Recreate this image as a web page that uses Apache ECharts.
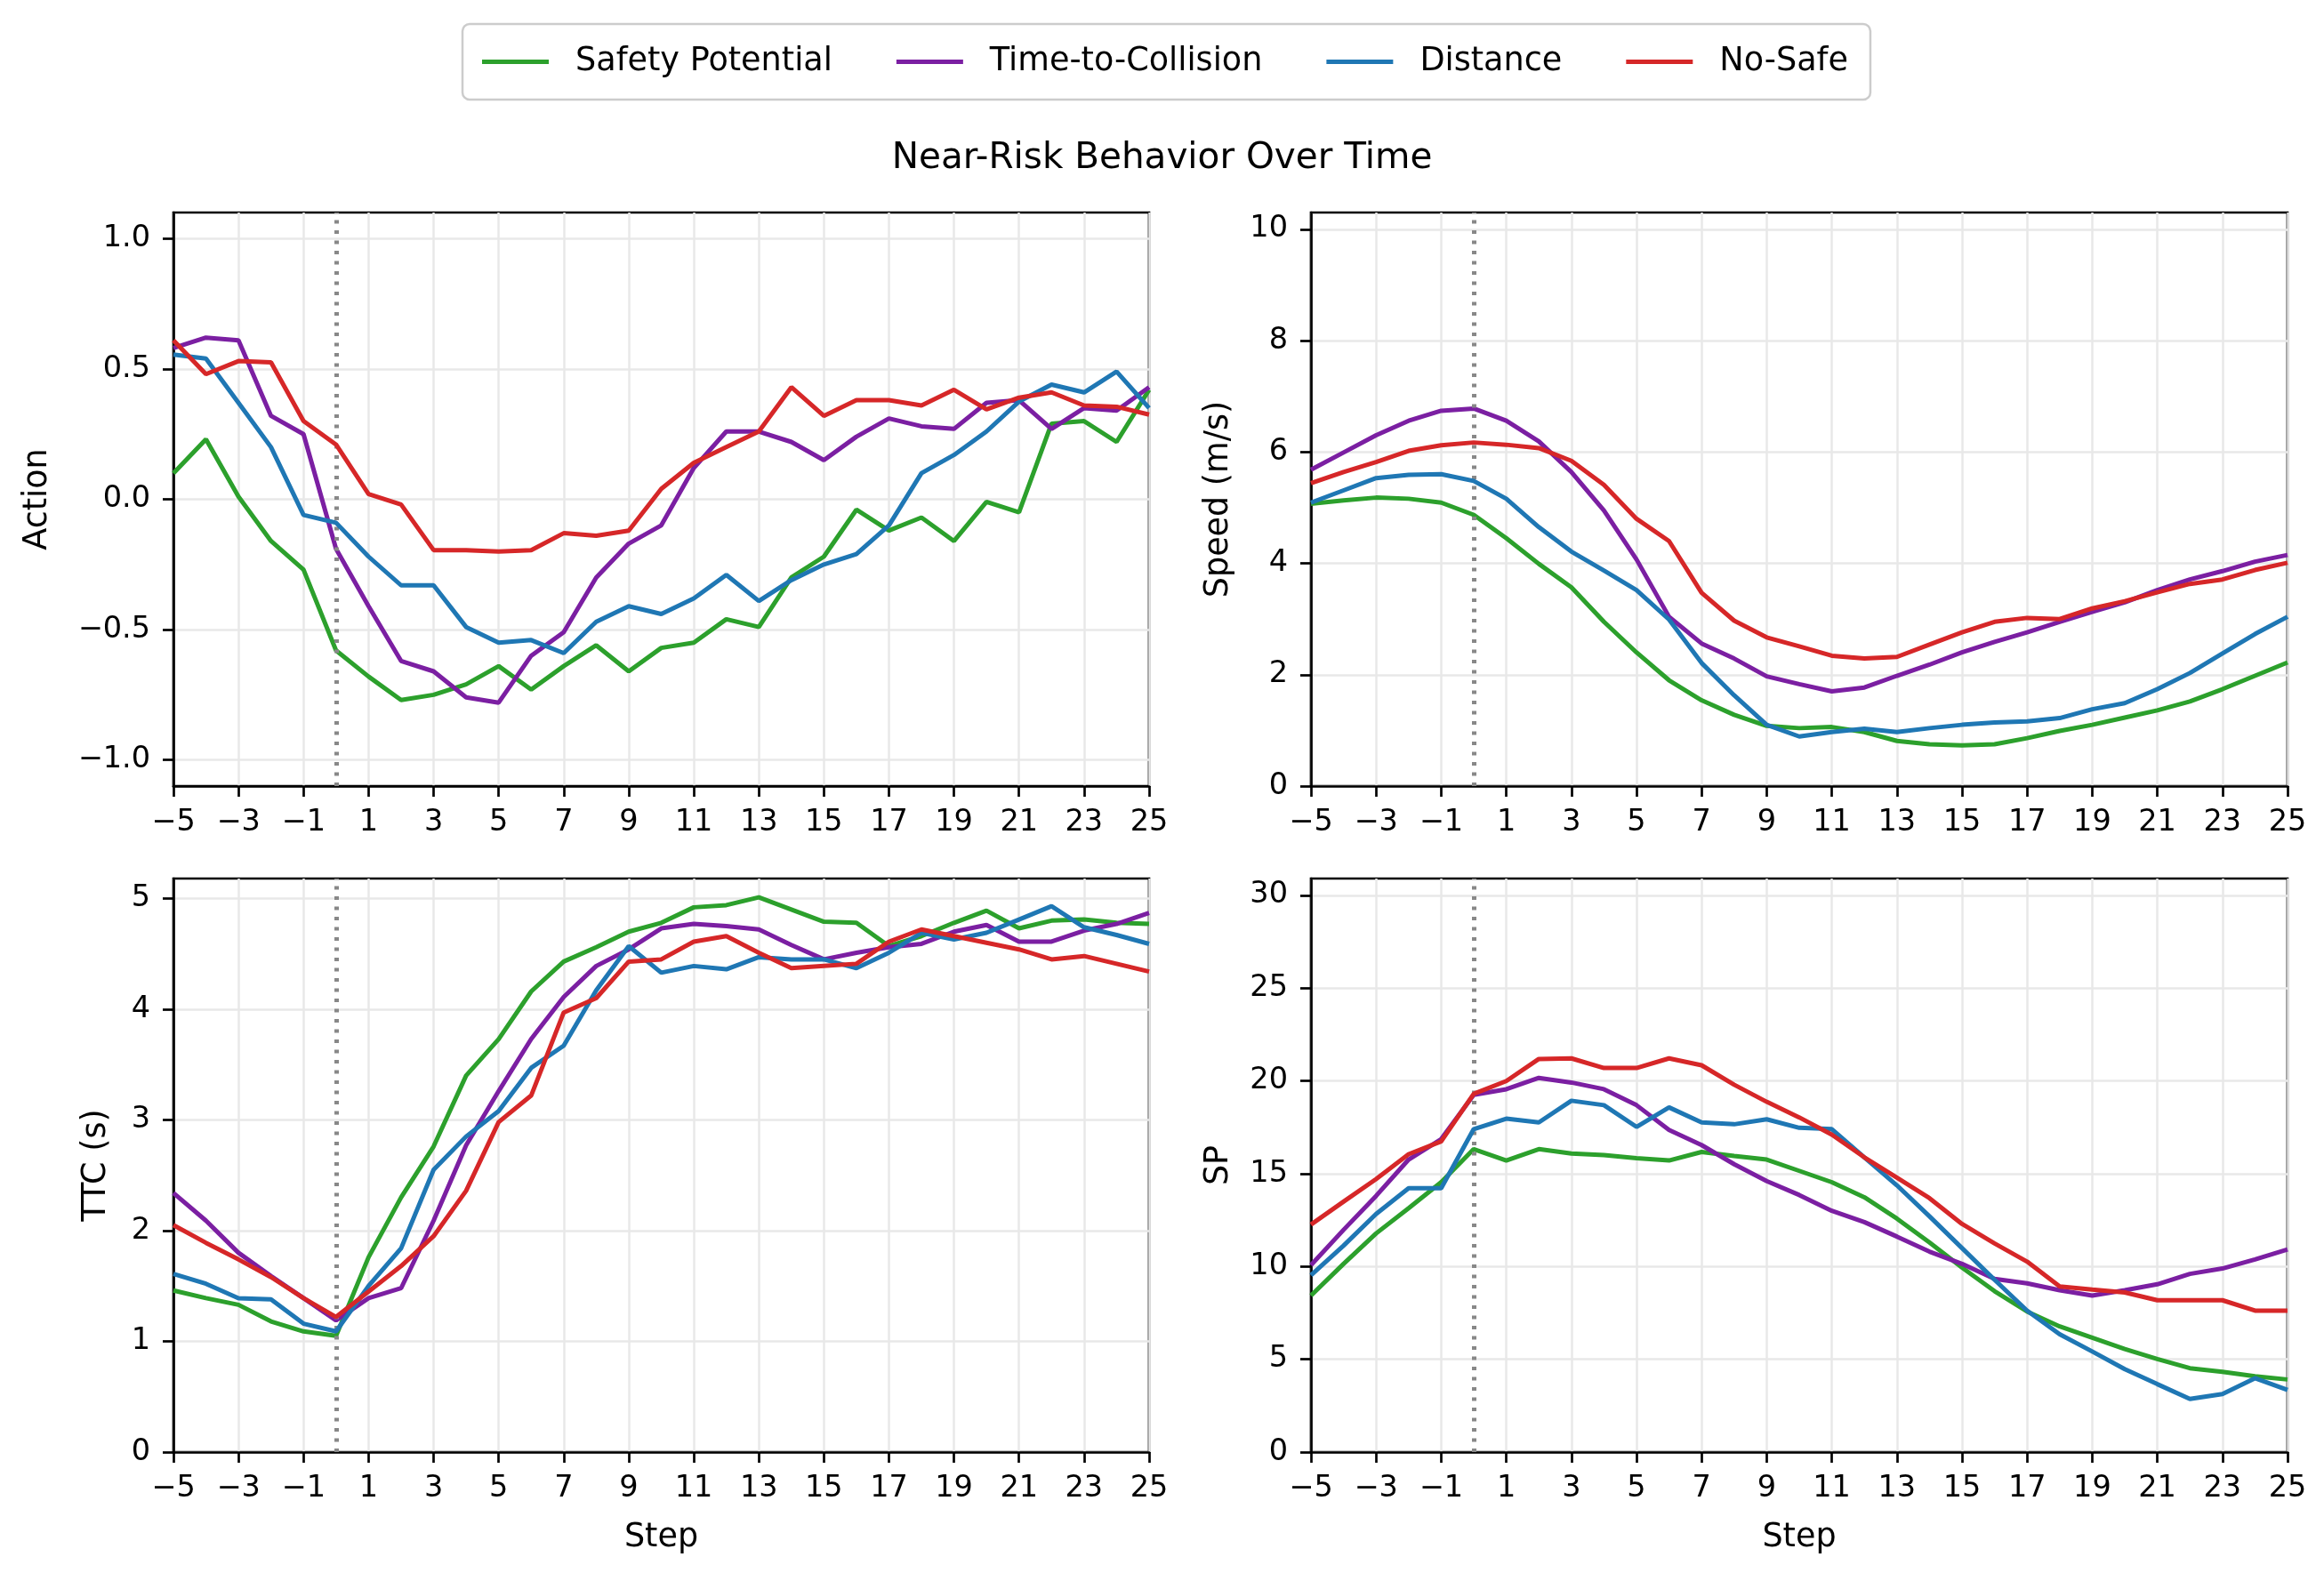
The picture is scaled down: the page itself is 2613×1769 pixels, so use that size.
<!DOCTYPE html>
<html>
<head>
<meta charset="utf-8">
<script src="https://cdn.jsdelivr.net/npm/echarts@6/dist/echarts.min.js"></script>
<style>
  html, body { margin: 0; padding: 0; background: #fff; }
  #chart { width: 2613px; height: 1769px; }
</style>
</head>
<body>
<div id="chart"></div>
<script>
const steps = [-5,-4,-3,-2,-1,0,1,2,3,4,5,6,7,8,9,10,11,12,13,14,15,16,17,18,19,20,21,22,23,24,25];
const seriesNames = ['Safety Potential', 'Time-to-Collision', 'Distance', 'No-Safe'];
const seriesColors = ['#2ca02c', '#7b1fa2', '#1f77b4', '#d62728'];

// Action
const actionSP   = [0.10,0.23,0.01,-0.16,-0.27,-0.58,-0.68,-0.77,-0.75,-0.71,-0.64,-0.73,-0.64,-0.56,-0.66,-0.57,-0.55,-0.46,-0.49,-0.30,-0.22,-0.04,-0.12,-0.07,-0.16,-0.01,-0.05,0.29,0.30,0.22,0.42];
const actionTTC  = [0.58,0.62,0.61,0.32,0.25,-0.19,-0.41,-0.62,-0.66,-0.76,-0.78,-0.60,-0.51,-0.30,-0.17,-0.10,0.12,0.26,0.26,0.22,0.15,0.24,0.31,0.28,0.27,0.37,0.38,0.27,0.35,0.34,0.43];
const actionDist = [0.555,0.54,0.37,0.20,-0.06,-0.09,-0.22,-0.33,-0.33,-0.49,-0.55,-0.54,-0.59,-0.47,-0.41,-0.44,-0.38,-0.29,-0.39,-0.31,-0.25,-0.21,-0.10,0.10,0.17,0.26,0.375,0.44,0.41,0.49,0.35];
const actionNS   = [0.61,0.48,0.53,0.525,0.30,0.21,0.02,-0.02,-0.195,-0.195,-0.20,-0.195,-0.13,-0.14,-0.12,0.04,0.14,0.20,0.26,0.43,0.32,0.38,0.38,0.36,0.42,0.345,0.39,0.41,0.36,0.355,0.325];

// Speed (m/s)
const speedSP   = [5.07,5.13,5.18,5.16,5.09,4.87,4.45,3.99,3.57,2.95,2.40,1.90,1.54,1.28,1.08,1.04,1.06,0.97,0.81,0.75,0.73,0.75,0.86,0.99,1.10,1.23,1.36,1.52,1.74,1.98,2.22];
const speedTTC  = [5.68,5.99,6.30,6.56,6.74,6.78,6.56,6.19,5.64,4.95,4.07,3.04,2.56,2.29,1.97,1.83,1.70,1.77,1.98,2.18,2.40,2.59,2.76,2.95,3.13,3.30,3.52,3.71,3.86,4.03,4.15];
const speedDist = [5.09,5.31,5.53,5.59,5.60,5.48,5.16,4.65,4.21,3.87,3.52,2.99,2.21,1.63,1.10,0.89,0.97,1.03,0.97,1.04,1.10,1.14,1.16,1.22,1.38,1.49,1.74,2.03,2.38,2.73,3.04];
const speedNS   = [5.44,5.64,5.82,6.02,6.12,6.17,6.13,6.07,5.84,5.41,4.80,4.40,3.47,2.97,2.67,2.51,2.34,2.29,2.32,2.54,2.76,2.95,3.02,3.00,3.19,3.32,3.48,3.63,3.71,3.88,4.01];

// TTC (s)
const ttcSP   = [1.46,1.39,1.33,1.18,1.09,1.05,1.76,2.30,2.76,3.40,3.73,4.16,4.43,4.56,4.70,4.78,4.92,4.94,5.01,4.90,4.79,4.78,4.57,4.66,4.78,4.89,4.73,4.80,4.81,4.78,4.77];
const ttcTTC  = [2.34,2.09,1.80,1.59,1.39,1.19,1.39,1.48,2.09,2.77,3.26,3.73,4.11,4.39,4.54,4.73,4.77,4.75,4.72,4.58,4.45,4.51,4.56,4.59,4.70,4.76,4.61,4.61,4.71,4.77,4.87];
const ttcDist = [1.61,1.52,1.39,1.38,1.16,1.09,1.50,1.84,2.55,2.85,3.08,3.47,3.67,4.17,4.57,4.33,4.39,4.36,4.47,4.45,4.45,4.37,4.51,4.69,4.63,4.69,4.81,4.93,4.74,4.67,4.59];
const ttcNS   = [2.05,1.89,1.74,1.58,1.39,1.22,1.45,1.68,1.95,2.36,2.98,3.22,3.97,4.10,4.43,4.45,4.61,4.66,4.51,4.37,4.39,4.41,4.61,4.72,4.66,4.60,4.54,4.45,4.48,4.41,4.34];

// SP
const spSP   = [8.43,10.14,11.78,13.14,14.54,16.32,15.71,16.32,16.08,16.00,15.83,15.71,16.17,15.95,15.76,15.15,14.54,13.73,12.58,11.29,9.94,8.67,7.57,6.77,6.16,5.55,5.01,4.52,4.32,4.08,3.91];
const spTTC  = [10.07,11.97,13.80,15.76,16.86,19.25,19.55,20.16,19.91,19.55,18.69,17.35,16.54,15.51,14.60,13.85,13.00,12.39,11.61,10.80,10.14,9.33,9.09,8.72,8.43,8.72,9.04,9.60,9.89,10.38,10.92];
const spDist = [9.53,11.12,12.83,14.22,14.22,17.40,17.96,17.76,18.93,18.69,17.52,18.57,17.76,17.66,17.93,17.47,17.40,15.88,14.37,12.70,10.99,9.28,7.62,6.35,5.42,4.47,3.66,2.86,3.13,3.98,3.35];
const spNS   = [12.26,13.49,14.71,16.05,16.74,19.30,19.99,21.18,21.21,20.69,20.69,21.21,20.84,19.79,18.87,18.03,17.10,15.88,14.78,13.68,12.29,11.24,10.26,8.92,8.75,8.60,8.18,8.18,8.18,7.62,7.62];

const xTicks = [-5,-3,-1,1,3,5,7,9,11,13,15,17,19,21,23,25];
const actionTicks = [-1.0,-0.5,0.0,0.5,1.0];
const speedTicks = [0,2,4,6,8,10];
const ttcTicks = [0,1,2,3,4,5];
const spTicks = [0,5,10,15,20,25,30];

const panels = [
  { label: 'Action',      data: [actionSP, actionTTC, actionDist, actionNS], ticks: actionTicks, min: -1.1, max: 1.1,  dec: 1, gap: 134, xname: '' },
  { label: 'Speed (m/s)', data: [speedSP, speedTTC, speedDist, speedNS],     ticks: speedTicks,  min: 0,    max: 10.3, dec: 0, gap: 85,  xname: '' },
  { label: 'TTC (s)',     data: [ttcSP, ttcTTC, ttcDist, ttcNS],             ticks: ttcTicks,    min: 0,    max: 5.18, dec: 0, gap: 68,  xname: 'Step' },
  { label: 'SP',          data: [spSP, spTTC, spDist, spNS],                 ticks: spTicks,     min: 0,    max: 30.9, dec: 0, gap: 85,  xname: 'Step' }
];

const gridPos = [
  { left: 195,  top: 239, width: 1097, height: 645 },
  { left: 1474, top: 239, width: 1098, height: 645 },
  { left: 195,  top: 988, width: 1097, height: 645 },
  { left: 1474, top: 988, width: 1098, height: 645 }
];

const FONT = 'DejaVu Sans';
const fmtMinus = s => String(s).replace('-', '\u2212');

const grids = [], xAxes = [], yAxes = [], series = [];
panels.forEach((p, k) => {
  grids.push(Object.assign({ show: true, borderColor: '#000', borderWidth: 2.7, backgroundColor: 'transparent', containLabel: false }, gridPos[k]));
  xAxes.push({
    type: 'value', gridIndex: k, min: -5, max: 25, interval: 2,
    name: p.xname, nameLocation: 'middle', nameGap: 78,
    nameTextStyle: { fontFamily: FONT, fontSize: 36.5, color: '#000' },
    axisLine: { show: true, onZero: false, lineStyle: { color: '#000', width: 2.7 } },
    axisTick: { show: true, length: 12, inside: false, lineStyle: { color: '#000', width: 2.7 }, customValues: xTicks },
    axisLabel: { show: true, margin: 24, fontFamily: FONT, fontSize: 33.5, color: '#000', customValues: xTicks, formatter: v => fmtMinus(v) },
    splitLine: { show: true, lineStyle: { color: '#e8e8e8', width: 2.5 } }
  });
  yAxes.push({
    type: 'value', gridIndex: k, min: p.min, max: p.max,
    name: p.label, nameLocation: 'middle', nameGap: p.gap, nameRotate: 90,
    nameTextStyle: { fontFamily: FONT, fontSize: 36.5, color: '#000' },
    axisLine: { show: true, onZero: false, lineStyle: { color: '#000', width: 2.7 } },
    axisTick: { show: true, length: 12, inside: false, lineStyle: { color: '#000', width: 2.7 }, customValues: p.ticks },
    axisLabel: { show: true, margin: 26, fontFamily: FONT, fontSize: 33.5, color: '#000', customValues: p.ticks,
                 formatter: v => fmtMinus(Number(v).toFixed(p.dec)) },
    splitLine: { show: true, lineStyle: { color: '#e8e8e8', width: 2.5 } }
  });
  p.data.forEach((arr, j) => {
    const s = {
      name: seriesNames[j], type: 'line', xAxisIndex: k, yAxisIndex: k,
      data: steps.map((x, i) => [x, arr[i]]),
      showSymbol: false, symbol: 'none',
      lineStyle: { color: seriesColors[j], width: 5 },
      itemStyle: { color: seriesColors[j] },
      z: 3 + j
    };
    if (j === 0) {
      s.markLine = {
        silent: true, symbol: ['none', 'none'], label: { show: false },
        lineStyle: { color: '#888888', width: 5, type: [4, 7.5] },
        emphasis: { disabled: true },
        data: [{ xAxis: 0 }]
      };
    }
    series.push(s);
  });
});

const chart = echarts.init(document.getElementById('chart'), null, { renderer: 'canvas' });
chart.setOption({
  animation: false,
  backgroundColor: '#ffffff',
  title: {
    text: 'Near-Risk Behavior Over Time', left: 'center', top: 157, padding: 0,
    textStyle: { fontFamily: FONT, fontSize: 40.5, fontWeight: 'normal', color: '#000', lineHeight: 42 }
  },
  legend: {
    data: seriesNames, left: 520, top: 27,
    padding: [24, 25, 24, 22],
    itemWidth: 75, itemHeight: 5, itemGap: 72, icon: 'rect',
    backgroundColor: '#ffffff', borderColor: '#cccccc', borderWidth: 2.5, borderRadius: 8,
    textStyle: { fontFamily: FONT, fontSize: 36.6, color: '#000', padding: [0, 0, 0, 25] },
    selectedMode: false
  },
  grid: grids, xAxis: xAxes, yAxis: yAxes, series: series
});
</script>
</body>
</html>
